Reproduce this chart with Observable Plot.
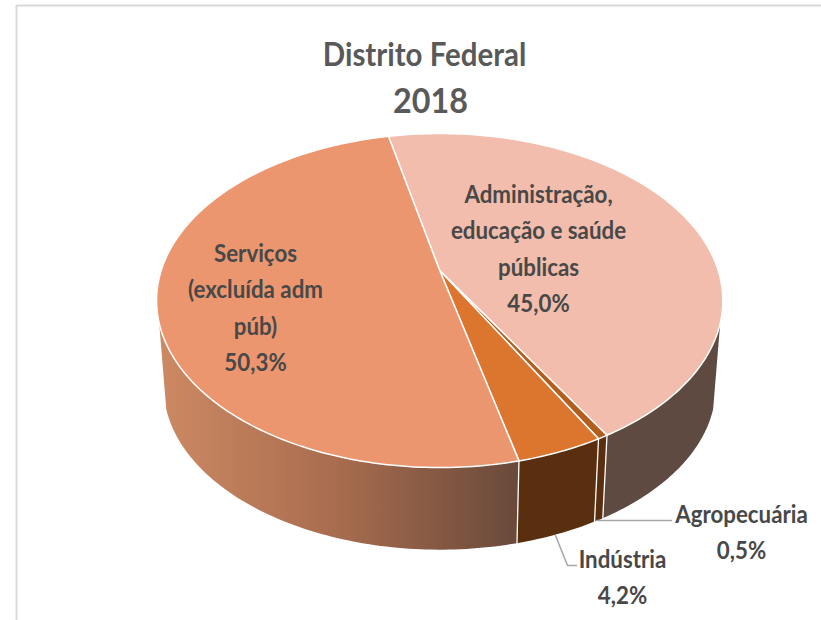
<!DOCTYPE html>
<html lang="pt">
<head>
<meta charset="utf-8">
<style>html,body{margin:0;padding:0;background:#fff}svg{display:block}</style>
<script src="https://cdn.jsdelivr.net/npm/d3@7"></script>
<script src="https://cdn.jsdelivr.net/npm/@observablehq/plot@0.6"></script>
</head>
<body>
<div id="chart"></div>
<script>
// Chart data (clockwise from the Administração slice)
const categories = ["Administração, educação e saúde públicas", "Agropecuária", "Indústria", "Serviços (excluída adm púb)"];
const shares = [45.0, 0.5, 4.2, 50.3];
const titleLines = ["Distrito Federal", "2018"];

// Styling
const topColors = ["#F2BDAC", "#B35E1E", "#DC752D", "#EC9670"];
const wallColors = ["#5F4A41", "#5A2F10", "#5A2F10", "url(#wallGradient)"];

// Projection of the tilted disc into the frame
const apex = [439.2, 270], radiusX = 278.5, radiusY = 161.6, perspective = 0.18;
const startAngle = -12.5, floor = {scale: 0.975, drop: 87};
const wallLimits = [108, 252];

const rad = d => d * Math.PI / 180;
function rim(angle, level = 0) {
  const u = Math.sin(rad(angle)), v = -Math.cos(rad(angle)), w = 1 - perspective * v;
  const x = radiusX * u / w, y = radiusY * v / w;
  return level === 0
    ? [apex[0] + x, apex[1] + y]
    : [apex[0] + x * floor.scale, apex[1] + y * floor.scale + floor.drop];
}
function arcAngles(a0, a1) {
  const n = Math.max(2, Math.ceil(Math.abs(a1 - a0)));
  return d3.range(n + 1).map(i => a0 + (a1 - a0) * i / n);
}

// Slice extents from the data
let acc = startAngle;
const slices = categories.map((name, i) => {
  const a0 = acc, a1 = acc + shares[i] * 3.6;
  acc = a1;
  return {name, a0, a1, top: topColors[i], wall: wallColors[i]};
});

const topPoly = slices.flatMap(s => {
  const pts = [apex, ...arcAngles(s.a0, s.a1).map(a => rim(a)), apex];
  return pts.map(p => ({name: s.name, x: p[0], y: p[1], fill: s.top}));
});
const wallPoly = s => {
  const a0 = Math.max(s.a0, wallLimits[0]), a1 = Math.min(s.a1, wallLimits[1]);
  const angles = arcAngles(a0, a1);
  const pts = [...angles.map(a => rim(a)), ...angles.slice().reverse().map(a => rim(a, 1))];
  pts.push(pts[0]);
  return pts.map(p => ({x: p[0], y: p[1]}));
};
const dividers = slices.slice(1).flatMap(s => [rim(s.a0), rim(s.a0, 1)].map(p => ({id: s.name, x: p[0], y: p[1]})));

const fontFamily = "Lato, Carlito, 'Open Sans', sans-serif";
const ink = "#484848";

// Label text, placed by the mark below
const labelLines = [
  ["Administração,", "educação e saúde", "públicas", "45,0%"],
  ["Agropecuária", "0,5%"],
  ["Indústria", "4,2%"],
  ["Serviços", "(excluída adm", "púb)", "50,3%"]
];
const labelPlace = [
  {x: 538, y: 194, dy: 36.5},
  {x: 741, y: 514, dy: 36},
  {x: 622, y: 559, dy: 36},
  {x: 255, y: 253, dy: 36.5}
];
const labelRows = labelLines.flatMap((lines, i) => lines.map((text, j) => ({
  text, x: labelPlace[i].x, y: labelPlace[i].y + j * labelPlace[i].dy
})));
const titleRows = [
  {text: titleLines[0], x: 424, y: 55, size: 31},
  {text: titleLines[1], x: 430, y: 101, size: 34}
];
const leaders = [
  {id: "Agropecuária", pts: [[596, 520], [671, 520]]},
  {id: "Indústria", pts: [[555, 535], [567, 565], [576, 565]]}
].flatMap(l => l.pts.map(p => ({id: l.id, x: p[0], y: p[1]})));
const frame = [[16, 620], [16, 5], [821, 5]].map(p => ({x: p[0], y: p[1]}));

const gradient = () => {
  const defs = d3.create("svg:defs");
  const g = defs.append("linearGradient").attr("id", "wallGradient");
  [[0, "#CD8963"], [0.5, "#A76C4E"], [1, "#69493A"]].forEach(([o, c]) =>
    g.append("stop").attr("offset", o).attr("stop-color", c));
  return defs.node();
};
// Calibri-like narrow, tall letterforms
const squeeze = (sx, sy) => (index, scales, values, dims, ctx, next) => {
  const g = next(index, scales, values, dims, ctx);
  g.querySelectorAll("text").forEach(t =>
    t.setAttribute("transform", `${t.getAttribute("transform") || ""} scale(${sx},${sy})`));
  return g;
};

const plot = Plot.plot({
  width: 821, height: 620,
  margin: 0,
  x: {domain: [0, 821], range: [0, 821], axis: null},
  y: {domain: [0, 620], range: [0, 620], axis: null},
  style: {fontFamily, background: "#fff"},
  marks: [
    gradient,
    Plot.line(frame, {x: "x", y: "y", stroke: "#D9D9D9", strokeWidth: 2, strokeLinejoin: "miter"}),
    ...slices.filter(s => s.a1 > wallLimits[0]).map(s =>
      Plot.line(wallPoly(s), {x: "x", y: "y", fill: s.wall, stroke: "none", curve: "linear"})),
    Plot.line(dividers, {x: "x", y: "y", z: "id", stroke: "#fff", strokeWidth: 1.3}),
    Plot.line(topPoly, {x: "x", y: "y", z: "name", fill: "fill", stroke: "#fff", strokeWidth: 1.5, curve: "linear", strokeLinejoin: "round"}),
    Plot.line(leaders, {x: "x", y: "y", z: "id", stroke: "#A6A6A6", strokeWidth: 1.5}),
    Plot.text(labelRows, {x: "x", y: "y", text: "text", fill: ink, fontSize: 23, fontWeight: 700, textAnchor: "middle", lineAnchor: "middle", render: squeeze(0.97, 1.1)}),
    Plot.text(titleRows, {x: "x", y: "y", text: "text", fill: "#595959", fontSize: "size", fontWeight: 700, textAnchor: "middle", lineAnchor: "middle", render: squeeze(0.95, 1.03)})
  ]
});
document.getElementById("chart").append(plot);
</script>
</body>
</html>
